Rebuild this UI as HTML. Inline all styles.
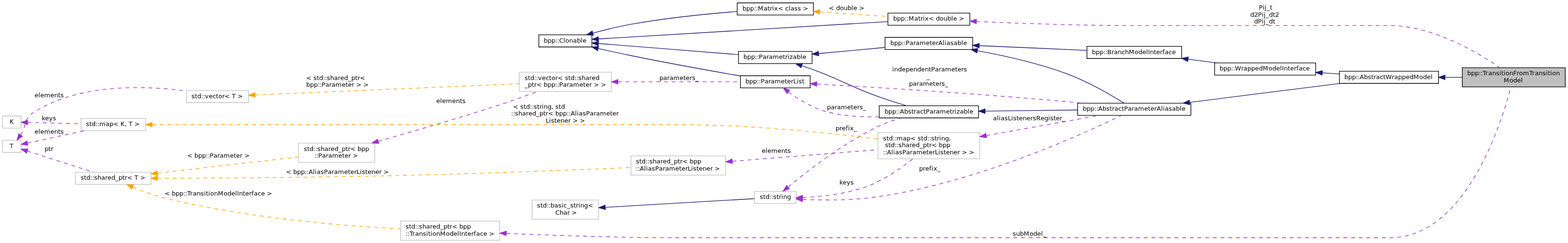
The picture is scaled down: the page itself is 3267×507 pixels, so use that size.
<!DOCTYPE html>
<html lang="en">
<head>
<meta charset="utf-8">
<title>bpp::TransitionFromTransitionModel collaboration graph</title>
<style>
html,body{margin:0;padding:0;background:#fff;overflow:hidden;}
body{width:3267px;height:507px;}
svg{display:block;will-change:transform;}
text{font-family:"DejaVu Sans","Liberation Sans",sans-serif;font-size:13px;fill:#000;white-space:pre;font-kerning:none;}
.g polygon{stroke-width:1;}
.g path{fill:none;stroke-width:1;}
.d path{stroke-dasharray:6;}
</style>
</head>
<body>
<svg width="3267" height="507" viewBox="0 0 3267 507">
<rect x="0" y="0" width="3267" height="507" fill="#ffffff"/>
<g class="g" transform="scale(1.3333333) translate(4 376.5)">
<g>
<polygon fill="#bfbfbf" stroke="black" points="2281,-240.5 2281,-270.5 2442,-270.5 2442,-240.5 2281,-240.5"/>
</g>
<g>
<polygon fill="white" stroke="black" points="2089,-246 2089,-265 2244,-265 2244,-246 2089,-246"/>
</g>
<g>
<path stroke="midnightblue" d="M2254.07,-255.5C2262.99,-255.5 2272.03,-255.5 2280.87,-255.5"/>
<polygon fill="midnightblue" stroke="midnightblue" points="2254.06,-252 2244.06,-255.5 2254.06,-259 2254.06,-252"/>
</g>
<g>
<polygon fill="white" stroke="black" points="1680,-196 1680,-215 1857,-215 1857,-196 1680,-196"/>
</g>
<g>
<path stroke="midnightblue" d="M1855.03,-216.3C1924.98,-225.13 2022.96,-237.5 2090.03,-245.97"/>
<polygon fill="midnightblue" stroke="midnightblue" points="1855.28,-212.8 1844.92,-215.02 1854.4,-219.75 1855.28,-212.8"/>
</g>
<g>
<polygon fill="white" stroke="black" points="1370,-192 1370,-211 1525,-211 1525,-192 1370,-192"/>
</g>
<g>
<path stroke="midnightblue" d="M1535.32,-202.59C1580.18,-203.15 1634.81,-203.84 1679.8,-204.4"/>
<polygon fill="midnightblue" stroke="midnightblue" points="1535.36,-199.09 1525.31,-202.46 1535.27,-206.09 1535.36,-199.09"/>
</g>
<g>
<polygon fill="white" stroke="black" points="1150,-277 1150,-296 1265,-296 1265,-277 1150,-277"/>
</g>
<g>
<path stroke="midnightblue" d="M1249.24,-273.73C1255.22,-271.72 1261.29,-269.61 1267,-267.5 1312.6,-250.64 1322.26,-241.96 1368,-225.5 1382.48,-220.29 1398.72,-215.2 1412.65,-211.06"/>
<polygon fill="midnightblue" stroke="midnightblue" points="1247.73,-270.55 1239.32,-277 1249.92,-277.19 1247.73,-270.55"/>
</g>
<g>
<polygon fill="white" stroke="black" points="1379,-299 1379,-318 1516,-318 1516,-299 1379,-299"/>
</g>
<g>
<path stroke="midnightblue" d="M1275.45,-292.69C1307.74,-295.67 1346.41,-299.25 1378.8,-302.24"/>
<polygon fill="midnightblue" stroke="midnightblue" points="1275.48,-289.18 1265.2,-291.74 1274.84,-296.15 1275.48,-289.18"/>
</g>
<g>
<polygon fill="white" stroke="black" points="838,-303 838,-322 921,-322 921,-303 838,-303"/>
</g>
<g>
<path stroke="midnightblue" d="M931.36,-308.44C990.57,-303.72 1088.09,-295.94 1149.72,-291.03"/>
<polygon fill="midnightblue" stroke="midnightblue" points="930.82,-304.98 921.13,-309.26 931.38,-311.95 930.82,-304.98"/>
</g>
<g>
<polygon fill="white" stroke="black" points="1153,-239 1153,-258 1262,-258 1262,-239 1153,-239"/>
</g>
<g>
<path stroke="midnightblue" d="M930.79,-300.66C947.1,-296.94 965.29,-292.92 982,-289.5 1040.23,-277.59 1107.29,-265.56 1152.85,-257.64"/>
<polygon fill="midnightblue" stroke="midnightblue" points="929.88,-297.28 920.92,-302.93 931.45,-304.1 929.88,-297.28"/>
</g>
<g>
<polygon fill="white" stroke="black" points="1383.5,-337 1383.5,-356 1511.5,-356 1511.5,-337 1383.5,-337"/>
</g>
<g>
<path stroke="midnightblue" d="M931.4,-315.56C1034.95,-321.78 1269.88,-335.89 1383.13,-342.69"/>
<polygon fill="midnightblue" stroke="midnightblue" points="931.4,-312.05 921.21,-314.95 930.98,-319.04 931.4,-312.05"/>
</g>
<g>
<polygon fill="white" stroke="black" points="1148,-353 1148,-372 1267,-372 1267,-353 1148,-353"/>
</g>
<g>
<path stroke="midnightblue" d="M922.41,-324.68C940.59,-329.59 962.21,-334.93 982,-338.5 1037.74,-348.56 1102.08,-354.91 1147.56,-358.54"/>
<polygon fill="midnightblue" stroke="midnightblue" points="923.26,-321.29 912.69,-322.01 921.41,-328.04 923.26,-321.29"/>
</g>
<g class="d">
<path stroke="#9a32cd" d="M1272.39,-245.04C1360.26,-240.08 1523.28,-230.12 1662,-217.5 1670.17,-216.76 1678.69,-215.91 1687.18,-215.02"/>
<polygon fill="#9a32cd" stroke="#9a32cd" points="1272.1,-241.55 1262.32,-245.61 1272.5,-248.54 1272.1,-241.55"/>
</g>
<g class="d">
<path stroke="#9a32cd" d="M1228.28,-232.52C1242.96,-221.72 1264,-208.4 1285,-202.5 1311.99,-194.92 1342.54,-193.11 1369.75,-193.72"/>
<polygon fill="#9a32cd" stroke="#9a32cd" points="1225.84,-229.98 1220.01,-238.83 1230.08,-235.54 1225.84,-229.98"/>
</g>
<g>
<polygon fill="white" stroke="#bfbfbf" points="807.5,-233.5 807.5,-263.5 951.5,-263.5 951.5,-233.5 807.5,-233.5"/>
</g>
<g class="d">
<path stroke="#9a32cd" d="M961.8,-248.5C1021.53,-248.5 1101.01,-248.5 1152.95,-248.5"/>
<polygon fill="#9a32cd" stroke="#9a32cd" points="961.64,-245 951.64,-248.5 961.64,-252 961.64,-245"/>
</g>
<g>
<polygon fill="white" stroke="#bfbfbf" points="462.5,-122.5 462.5,-152.5 581.5,-152.5 581.5,-122.5 462.5,-122.5"/>
</g>
<g class="d">
<path stroke="#9a32cd" d="M586.94,-155.35C638.48,-169.99 712.7,-191.62 777,-212.5 788.47,-216.22 814.15,-225.34 836.81,-233.46"/>
<polygon fill="#9a32cd" stroke="#9a32cd" points="587.84,-151.97 577.27,-152.61 585.94,-158.7 587.84,-151.97"/>
</g>
<g>
<polygon fill="white" stroke="#bfbfbf" points="114,-88 114,-107 232,-107 232,-88 114,-88"/>
</g>
<g class="d">
<path stroke="orange" d="M242.26,-105.6C244.87,-105.9 247.46,-106.2 250,-106.5 323.14,-115.01 407.42,-124.62 462.31,-130.85"/>
<polygon fill="orange" stroke="orange" points="242.43,-102.09 232.09,-104.4 241.61,-109.04 242.43,-102.09"/>
</g>
<g>
<polygon fill="white" stroke="#bfbfbf" points="982,-102.5 982,-132.5 1130,-132.5 1130,-102.5 982,-102.5"/>
</g>
<g class="d">
<path stroke="orange" d="M242.1,-97.58C326.89,-97.82 476.16,-98.64 604,-101.5 737.35,-104.49 892.8,-110.58 981.98,-114.32"/>
<polygon fill="orange" stroke="orange" points="242.09,-94.08 232.08,-97.56 242.07,-101.08 242.09,-94.08"/>
</g>
<g>
<polygon fill="white" stroke="#bfbfbf" points="622,-0.5 622,-30.5 777,-30.5 777,-0.5 622,-0.5"/>
</g>
<g class="d">
<path stroke="orange" d="M203.63,-83.72C217.45,-77.84 234.28,-71.44 250,-67.5 377.92,-35.42 531.43,-23.05 621.63,-18.33"/>
<polygon fill="orange" stroke="orange" points="201.92,-80.65 194.17,-87.87 204.73,-87.06 201.92,-80.65"/>
</g>
<g>
<polygon fill="white" stroke="#bfbfbf" points="0,-138 0,-157 29,-157 29,-138 0,-138"/>
</g>
<g class="d">
<path stroke="#9a32cd" d="M38.67,-140.1C66.15,-131.32 112,-116.67 142.12,-107.05"/>
<polygon fill="#9a32cd" stroke="#9a32cd" points="37.58,-136.77 29.11,-143.15 39.71,-143.44 37.58,-136.77"/>
</g>
<g>
<polygon fill="white" stroke="#bfbfbf" points="287.5,-216 287.5,-235 384.5,-235 384.5,-216 287.5,-216"/>
</g>
<g class="d">
<path stroke="#9a32cd" d="M28.25,-165.31C28.5,-165.71 28.75,-166.11 29,-166.5 37.85,-180.67 33.03,-190.33 47,-199.5 119.93,-247.36 226.53,-242.23 287.5,-233.99"/>
<polygon fill="#9a32cd" stroke="#9a32cd" points="31.12,-163.31 22.59,-157.02 25.33,-167.25 31.12,-163.31"/>
</g>
<g>
<polygon fill="white" stroke="#bfbfbf" points="122.5,-172 122.5,-191 223.5,-191 223.5,-172 122.5,-172"/>
</g>
<g class="d">
<path stroke="#9a32cd" d="M38.91,-152.59C62.45,-157.7 99.28,-165.7 128.24,-171.99"/>
<polygon fill="#9a32cd" stroke="#9a32cd" points="39.63,-149.16 29.11,-150.46 38.14,-156 39.63,-149.16"/>
</g>
<g class="d">
<path stroke="orange" d="M394.77,-227.95C494.51,-232.19 698.74,-240.86 807.18,-245.47"/>
<polygon fill="orange" stroke="orange" points="394.72,-224.45 384.58,-227.52 394.42,-231.44 394.72,-224.45"/>
</g>
<g>
<polygon fill="white" stroke="#bfbfbf" points="1175,-58 1175,-77 1240,-77 1240,-58 1175,-58"/>
</g>
<g class="d">
<path stroke="#9a32cd" d="M1250.4,-64.56C1278.64,-63.23 1316.67,-62.69 1350,-66.5 1510.15,-84.81 1689.93,-167.36 1748.18,-195.82"/>
<polygon fill="#9a32cd" stroke="#9a32cd" points="1249.89,-61.08 1240.09,-65.1 1250.26,-68.07 1249.89,-61.08"/>
</g>
<g class="d">
<path stroke="#9a32cd" d="M1227.68,-83.97C1256.41,-107.88 1313.12,-152.23 1368,-178.5 1379.53,-184.02 1392.65,-188.5 1404.83,-191.99"/>
<polygon fill="#9a32cd" stroke="#9a32cd" points="1229.6,-81.01 1219.69,-77.25 1225.09,-86.37 1229.6,-81.01"/>
</g>
<g>
<polygon fill="white" stroke="#bfbfbf" points="1368,-128 1368,-169 1527,-169 1527,-128 1368,-128"/>
</g>
<g class="d">
<path stroke="#9a32cd" d="M1250.24,-67.48C1279.07,-68.66 1317.84,-72.67 1350,-84.5 1376.98,-94.43 1403.93,-113.23 1422.46,-127.9"/>
<polygon fill="#9a32cd" stroke="#9a32cd" points="1250.21,-63.97 1240.11,-67.16 1249.99,-70.97 1250.21,-63.97"/>
</g>
<g>
<polygon fill="white" stroke="#bfbfbf" points="827.5,-33.5 827.5,-63.5 931.5,-63.5 931.5,-33.5 827.5,-33.5"/>
</g>
<g>
<path stroke="midnightblue" d="M942.12,-52.09C1011.34,-56.13 1121.01,-62.52 1174.72,-65.65"/>
<polygon fill="midnightblue" stroke="midnightblue" points="941.98,-48.58 931.8,-51.49 941.58,-55.57 941.98,-48.58"/>
</g>
<g>
<path stroke="midnightblue" d="M1523.39,-297.15C1564.99,-289.58 1617.24,-277.96 1662,-261.5 1696.06,-248.98 1732.85,-227.41 1752.73,-215.01"/>
<polygon fill="midnightblue" stroke="midnightblue" points="1522.55,-293.74 1513.32,-298.94 1523.78,-300.64 1522.55,-293.74"/>
</g>
<g>
<polygon fill="white" stroke="black" points="1694.5,-285 1694.5,-304 1842.5,-304 1842.5,-285 1694.5,-285"/>
</g>
<g>
<path stroke="midnightblue" d="M1526.18,-305.09C1577.42,-302.84 1644.11,-299.92 1694.39,-297.71"/>
<polygon fill="midnightblue" stroke="midnightblue" points="1525.99,-301.6 1516.15,-305.53 1526.3,-308.59 1525.99,-301.6"/>
</g>
<g class="d">
<path stroke="#9a32cd" d="M1537.41,-164.39C1594.17,-174.53 1665.87,-187.34 1714.01,-195.94"/>
<polygon fill="#9a32cd" stroke="#9a32cd" points="1537.81,-160.9 1527.35,-162.59 1536.58,-167.79 1537.81,-160.9"/>
</g>
<g class="d">
<path stroke="#9a32cd" d="M1140.41,-124.14C1207.76,-129.5 1301.85,-136.99 1367.88,-142.24"/>
<polygon fill="#9a32cd" stroke="#9a32cd" points="1140.51,-120.64 1130.26,-123.33 1139.95,-127.61 1140.51,-120.64"/>
</g>
<g class="d">
<path stroke="orange" d="M233.97,-181.5C303.14,-181.5 420.29,-181.5 521,-181.5 521,-181.5 521,-181.5 1057,-181.5 1165.07,-181.5 1289.41,-168.73 1367.96,-159.08"/>
<polygon fill="orange" stroke="orange" points="233.71,-178 223.71,-181.5 233.71,-185 233.71,-178"/>
</g>
<g>
<polygon fill="white" stroke="#bfbfbf" points="0,-176 0,-195 29,-195 29,-176 0,-176"/>
</g>
<g class="d">
<path stroke="#9a32cd" d="M39.19,-184.89C61.16,-184.33 94.54,-183.48 122.35,-182.77"/>
<polygon fill="#9a32cd" stroke="#9a32cd" points="39.02,-181.4 29.11,-185.15 39.2,-188.4 39.02,-181.4"/>
</g>
<g>
<polygon fill="white" stroke="black" points="1894,-259 1894,-278 2052,-278 2052,-259 1894,-259"/>
</g>
<g>
<path stroke="midnightblue" d="M2062.16,-262.52C2071.06,-261.91 2080.05,-261.3 2088.82,-260.71"/>
<polygon fill="midnightblue" stroke="midnightblue" points="2061.91,-259.02 2052.17,-263.19 2062.38,-266.01 2061.91,-259.02"/>
</g>
<g>
<path stroke="midnightblue" d="M1852.86,-283.8C1867.82,-281.88 1883.31,-279.89 1897.98,-278"/>
<polygon fill="midnightblue" stroke="midnightblue" points="1852.08,-280.37 1842.61,-285.11 1852.97,-287.31 1852.08,-280.37"/>
</g>
<g class="d">
<path stroke="#9a32cd" d="M1521.82,-342.9C1586.47,-340.03 1683.22,-336.5 1767.5,-336.5 1767.5,-336.5 1767.5,-336.5 2167.5,-336.5 2234.91,-336.5 2305.96,-293.97 2339.99,-270.55"/>
<polygon fill="#9a32cd" stroke="#9a32cd" points="1521.56,-339.4 1511.73,-343.35 1521.88,-346.4 1521.56,-339.4"/>
</g>
<g class="d">
<path stroke="orange" d="M1277.17,-357.88C1310.6,-355.64 1350.51,-352.95 1383.19,-350.76"/>
<polygon fill="orange" stroke="orange" points="1276.77,-354.4 1267.03,-358.57 1277.24,-361.39 1276.77,-354.4"/>
</g>
<g class="d">
<path stroke="#9a32cd" d="M787.58,-11.29C859.33,-8.19 963.74,-4.5 1055,-4.5 1055,-4.5 1055,-4.5 2167.5,-4.5 2287.06,-4.5 2342.78,-185.68 2356.83,-240.18"/>
<polygon fill="#9a32cd" stroke="#9a32cd" points="787.07,-7.81 777.24,-11.75 787.38,-14.8 787.07,-7.81"/>
</g>
</g>
<g class="t" xml:space="preserve">
<text x="3057 3065 3073 3081 3085 3089 3095 3101 3109 3117 3124 3128 3133 3137 3145 3153 3160 3165 3173 3186 3192 3198 3206 3214 3221 3225 3230 3234 3242" y="157">bpp::TransitionFromTransition</text>
<text x="3133 3145 3153 3161 3169" y="172">Model</text>
<text x="2801 2809 2817 2825 2829 2833 2842 2850 2857 2862 2867 2875 2882 2887 2900 2905 2913 2921 2929 2937 2945 2957 2965 2973 2981" y="165">bpp::AbstractWrappedModel</text>
<text x="2256 2264 2272 2280 2284 2288 2297 2305 2312 2317 2322 2330 2337 2342 2350 2358 2363 2371 2384 2392 2397 2405 2410 2419 2423 2427 2435 2442 2450 2458 2462" y="231">bpp::AbstractParameterAliasable</text>
<text x="1843 1851 1859 1867 1871 1875 1884 1892 1899 1904 1909 1917 1924 1929 1937 1945 1950 1958 1971 1979 1984 1989 1993 2000 2008 2016 2020" y="237">bpp::AbstractParametrizable</text>
<text x="1549 1557 1565 1573 1577 1581 1589 1597 1602 1610 1623 1631 1636 1641 1645 1652 1660 1668 1672" y="123">bpp::Parametrizable</text>
<text x="1855 1863 1871 1879 1883 1887 1895 1903 1908 1916 1929 1937 1942 1950 1955 1964 1968 1972 1980 1987 1995 2003 2007" y="94">bpp::ParameterAliasable</text>
<text x="1133 1141 1149 1157 1161 1165 1174 1178 1186 1194 1202 1210 1214" y="89">bpp::Clonable</text>
<text x="1553 1561 1569 1577 1581 1585 1593 1601 1606 1614 1627 1635 1640 1648 1653 1660 1664 1671" y="174">bpp::ParameterList</text>
<text x="1861 1869 1877 1885 1889 1893 1905 1913 1918 1923 1927 1935 1946 1950 1958 1966 1974 1982 1986 1994 1998" y="43">bpp::Matrix&lt; double &gt;</text>
<text x="1547 1555 1563 1571 1575 1579 1591 1599 1604 1609 1613 1621 1632 1636 1643 1647 1655 1662 1669 1673" y="22">bpp::Matrix&lt; class &gt;</text>
<text x="1855 1859 1863 1871 1879 1887 1895 1903 1911 1919 1927 1935 1940 1948 1956 1961 1969 1982 1990 1995 2003 2008" y="149"> independentParameters</text>
<text x="1931" y="164">_</text>
<text x="1894 1902 1910 1915 1923 1936 1944 1949 1957 1962 1969" y="179">parameters_</text>
<text x="1719 1723 1731 1739 1744 1752 1765 1773 1778 1786 1791 1798" y="228"> parameters_</text>
<text x="1093 1100 1105 1113 1117 1121 1129 1137 1144 1149 1157 1162 1173 1177 1184 1189 1197 1201 1205 1212 1220 1228 1233 1241" y="167">std::vector&lt; std::shared</text>
<text x="1093 1100 1108 1113 1118 1129 1133 1141 1149 1157 1161 1165 1173 1181 1186 1194 1207 1215 1220 1228 1233 1237 1248 1252" y="181">_ptr&lt; bpp::Parameter &gt; &gt;</text>
<text x="1370 1374 1382 1390 1395 1403 1416 1424 1429 1437 1442 1449" y="167"> parameters_</text>
<text x="633 640 645 653 657 661 668 676 684 689 697 705 712 720 725 730 741 745 753 761" y="315">std::shared_ptr&lt; bpp</text>
<text x="655 659 663 671 679 684 692 705 713 718 726 731 735" y="329">::Parameter &gt;</text>
<text x="905 909 917 921 929 942 950 958 963" y="215"> elements</text>
<text x="168 175 180 188 192 196 203 211 219 224 232 240 247 255 260 265 276 280 288 292" y="375">std::shared_ptr&lt; T &gt;</text>
<text x="386 390 401 405 413 421 429 433 437 445 453 458 466 479 487 492 500 505 509" y="329"> &lt; bpp::Parameter &gt;</text>
<text x="1325 1332 1337 1345 1349 1353 1360 1368 1376 1381 1389 1397 1404 1412 1417 1422 1433 1437 1445 1453" y="341">std::shared_ptr&lt; bpp</text>
<text x="1325 1329 1333 1342 1346 1350 1358 1365 1373 1381 1386 1394 1407 1415 1420 1428 1433 1440 1444 1451 1456 1464 1472 1480 1485 1489" y="356">::AliasParameterListener &gt;</text>
<text x="592 596 607 611 619 627 635 639 643 652 656 660 668 675 683 691 696 704 717 725 730 738 743 750 754 761 766 774 782 790 795 799" y="363"> &lt; bpp::AliasParameterListener &gt;</text>
<text x="845 852 857 865 869 873 880 888 896 901 909 917 924 932 937 942 953 957 965 973" y="477">std::shared_ptr&lt; bpp</text>
<text x="845 849 853 859 865 873 881 888 892 897 901 909 917 929 937 945 953 957 961 969 974 982 987 992 1000 1007 1015 1019" y="492">::TransitionModelInterface &gt;</text>
<text x="339 343 354 358 366 374 382 386 390 396 402 410 418 425 429 434 438 446 454 466 474 482 490 494 498 506 511 519 524 529 537 544 552 556" y="408"> &lt; bpp::TransitionModelInterface &gt;</text>
<text x="20" y="309">T</text>
<text x="89 93 101 106" y="315"> ptr</text>
<text x="399 406 411 419 423 427 435 443 450 455 463 468 479 483 491 495" y="205">std::vector&lt; T &gt;</text>
<text x="68 72 80 84 92 105 113 121 126" y="203"> elements</text>
<text x="179 186 191 199 203 207 220 228 236 247 251 260 264 268 276 280" y="263">std::map&lt; K, T &gt;</text>
<text x="68 72 80 84 92 105 113 121 126" y="279"> elements</text>
<text x="634 638 649 653 660 665 673 677 681 688 696 704 709 717 725 732 740 745 750" y="167"> &lt; std::shared_ptr&lt;</text>
<text x="634 638 646 654 662 666 670 678 686 691 699 712 720 725 733 738 742 753 757" y="181"> bpp::Parameter &gt; &gt;</text>
<text x="1583 1590 1595 1603 1607 1611 1618 1623 1628 1632 1640" y="415">std::string</text>
<text x="1911 1915 1923 1928 1936 1941 1945 1953" y="356"> prefix_</text>
<text x="1737 1741 1749 1754 1762 1767 1771 1779" y="272"> prefix_</text>
<text x="1840 1847 1852 1860 1864 1868 1881 1889 1897 1908 1912 1919 1924 1932 1936 1940 1947 1952 1957 1961 1969 1977" y="293">std::map&lt; std::string,</text>
<text x="1840 1844 1851 1856 1864 1868 1872 1879 1887 1895 1900 1908 1916 1923 1931 1936 1941 1952 1956 1964 1972" y="307"> std::shared_ptr&lt; bpp</text>
<text x="1840 1844 1848 1857 1861 1865 1873 1880 1888 1896 1901 1909 1922 1930 1935 1943 1948 1955 1959 1966 1971 1979 1987 1995 2000 2004 2015 2019" y="322">::AliasParameterListener &gt; &gt;</text>
<text x="1745 1749 1756 1764 1772" y="385"> keys</text>
<text x="1119 1126 1131 1139 1143 1147 1155 1163 1170 1174 1181 1188 1195 1200 1205 1209 1217 1225" y="433">std::basic_string&lt;</text>
<text x="1153 1157 1166 1174 1182 1187 1191" y="448"> Char &gt;</text>
<text x="2275 2283 2291 2299 2303 2307 2316 2321 2329 2337 2344 2352 2364 2372 2380 2388 2392 2396 2404 2409 2417 2422 2427 2435 2442" y="113">bpp::BranchModelInterface</text>
<text x="2065 2069 2077 2081 2085 2093 2100 2107 2111 2118 2123 2131 2139 2147 2152 2159 2168 2176 2184 2188 2195 2200 2208 2213" y="251"> aliasListenersRegister_</text>
<text x="1583 1587 1595 1599 1607 1620 1628 1636 1641" y="319"> elements</text>
<text x="1065 1069 1080 1084 1091 1096 1104 1108 1112 1119 1124 1129 1133 1141 1149 1153 1157 1164 1169" y="227"> &lt; std::string, std</text>
<text x="1065 1069 1073 1080 1088 1096 1101 1109 1117 1124 1132 1137 1142 1153 1157 1165 1173 1181 1185 1189 1198 1202 1206 1214 1221 1229 1237 1242 1250 1263 1271 1276 1284" y="241">::shared_ptr&lt; bpp::AliasParameter</text>
<text x="1137 1144 1148 1155 1160 1168 1176 1184 1189 1193 1204 1208" y="256">Listener &gt; &gt;</text>
<text x="20" y="258">K</text>
<text x="83 87 94 102 110" y="251"> keys</text>
<text x="2541 2549 2557 2565 2569 2573 2586 2591 2599 2607 2615 2623 2631 2643 2651 2659 2667 2671 2675 2683 2688 2696 2701 2706 2714 2721" y="147">bpp::WrappedModelInterface</text>
<text x="2619 2623 2631 2635 2639 2646" y="20"> Pij_t</text>
<text x="2605 2613 2621 2629 2633 2637 2644 2652 2657" y="35">d2Pij_dt2</text>
<text x="2613 2621 2629 2633 2637 2644 2652" y="49">dPij_dt</text>
<text x="1723 1727 1738 1742 1750 1758 1766 1774 1778 1786 1790" y="21"> &lt; double &gt;</text>
<text x="2106 2110 2117 2125 2133 2145 2153 2161 2169 2173" y="492"> subModel_</text>
</g>
</svg>
</body>
</html>
